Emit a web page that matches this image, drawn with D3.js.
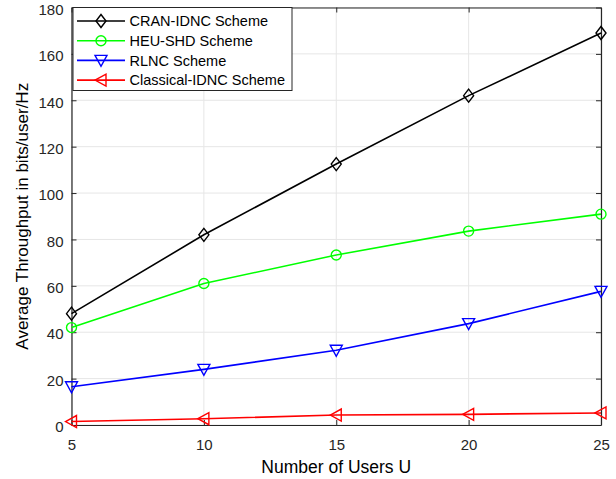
<!DOCTYPE html>
<html><head><meta charset="utf-8">
<script src="https://cdn.jsdelivr.net/npm/d3@7"></script>
<style>body{margin:0;background:#fff}svg{display:block}text{font-family:"Liberation Sans",Arial,Helvetica,sans-serif}</style>
</head><body><svg id="c" width="616" height="479"></svg>
<script>
const users = [5, 10, 15, 20, 25];
const cranIdnc = [48, 82, 112.5, 142, 169];
const heuShd = [42, 61, 73.3, 83.6, 90.9];
const rlnc = [16.5, 24, 32.2, 43.7, 57.6];
const classicalIdnc = [1.5, 2.7, 4.3, 4.6, 5.2];
const xTicks = [5, 10, 15, 20, 25];
const yTicks = [0, 20, 40, 60, 80, 100, 120, 140, 160, 180];
const seriesNames = ["CRAN-IDNC Scheme", "HEU-SHD Scheme", "RLNC Scheme", "Classical-IDNC Scheme"];
const seriesColors = ["#000000", "#00ff00", "#0000ff", "#ff0000"];
const seriesMarkers = ["diamond", "circle", "tridown", "trileft"];
const seriesValues = [cranIdnc, heuShd, rlnc, classicalIdnc];

const svg = d3.select("#c");
const L = 71.5, R = 601, T = 7.5, B = 425;
const x = d3.scaleLinear().domain([5, 25]).range([L, R]);
const y = d3.scaleLinear().domain([0, 180]).range([B, T]);

// grid
const g = svg.append("g");
g.selectAll(".gx").data(xTicks).join("line")
  .attr("x1", d => x(d)).attr("x2", d => x(d)).attr("y1", T).attr("y2", B)
  .attr("stroke", "#e6e6e6").attr("stroke-width", 1);
g.selectAll(".gy").data(yTicks).join("line")
  .attr("x1", L).attr("x2", R).attr("y1", d => y(d)).attr("y2", d => y(d))
  .attr("stroke", "#e6e6e6").attr("stroke-width", 1);

// axes
const tickLen = 5;
const ax = svg.append("g").attr("transform", `translate(0,${B})`)
  .call(d3.axisBottom(x).tickValues(xTicks).tickSizeInner(-tickLen).tickSizeOuter(0).tickPadding(14));
const axT = svg.append("g").attr("transform", `translate(0,${T})`)
  .call(d3.axisTop(x).tickValues(xTicks).tickSizeInner(-tickLen).tickSizeOuter(0).tickFormat(""));
const ay = svg.append("g").attr("transform", `translate(${L},0)`)
  .call(d3.axisLeft(y).tickValues(yTicks).tickSizeInner(-tickLen).tickSizeOuter(0).tickPadding(8));
const ayR = svg.append("g").attr("transform", `translate(${R},0)`)
  .call(d3.axisRight(y).tickValues(yTicks).tickSizeInner(-tickLen).tickSizeOuter(0).tickFormat(""));
[ax, axT, ay, ayR].forEach(a => {
  a.select(".domain").attr("stroke", "#262626").attr("stroke-width", 1.2);
  a.selectAll(".tick line").attr("stroke", "#262626").attr("stroke-width", 1);
  a.selectAll("text").attr("fill", "#262626").style("font-size", "15px").style("font-family", '"Liberation Sans",Arial,sans-serif');
});
ay.selectAll(".tick text").attr("dy", "0.45em");

// markers
function marker(sel, type, color) {
  if (type === "diamond") {
    sel.append("path").attr("d", "M0,-6.5L5,0L0,6.5L-5,0Z");
  } else if (type === "circle") {
    sel.append("circle").attr("r", 5);
  } else if (type === "tridown") {
    sel.append("path").attr("d", "M-6,-5L6,-5L0,6Z");
  } else if (type === "trileft") {
    sel.append("path").attr("d", "M-6,0L5,-6L5,6Z");
  }
  sel.selectAll("path,circle").attr("fill", "none").attr("stroke", color).attr("stroke-width", 1.4);
}

const line = d3.line().x((d, i) => x(users[i])).y(d => y(d));
seriesValues.forEach((vals, si) => {
  svg.append("path").datum(vals).attr("d", line)
    .attr("fill", "none").attr("stroke", seriesColors[si]).attr("stroke-width", 1.6);
  vals.forEach((v, i) => {
    const m = svg.append("g").attr("transform", `translate(${x(users[i])},${y(v)})`);
    marker(m, seriesMarkers[si], seriesColors[si]);
  });
});

// legend
const leg = svg.append("g");
leg.append("rect").attr("x", 73).attr("y", 7.5).attr("width", 219).attr("height", 83)
  .attr("fill", "#fff").attr("stroke", "#262626").attr("stroke-width", 1);
seriesNames.forEach((n, i) => {
  const yy = 21 + i * 19.7;
  leg.append("line").attr("x1", 77).attr("x2", 125).attr("y1", yy).attr("y2", yy)
    .attr("stroke", seriesColors[i]).attr("stroke-width", 1.6);
  const m = leg.append("g").attr("transform", `translate(101,${yy})`);
  marker(m, seriesMarkers[i], seriesColors[i]);
  leg.append("text").attr("x", 129.5).attr("y", yy).attr("dy", "0.36em")
    .style("font-size", "14.5px").attr("fill", "#000").text(n);
});

// axis titles
svg.append("text").attr("x", (L + R) / 2).attr("y", 473).attr("text-anchor", "middle")
  .style("font-size", "17.5px").attr("fill", "#000").text("Number of Users U");
svg.append("text").attr("transform", `translate(28,${(T + B) / 2}) rotate(-90)`).attr("text-anchor", "middle")
  .style("font-size", "17px").attr("fill", "#000").text("Average Throughput in bits/user/Hz");
</script></body></html>
